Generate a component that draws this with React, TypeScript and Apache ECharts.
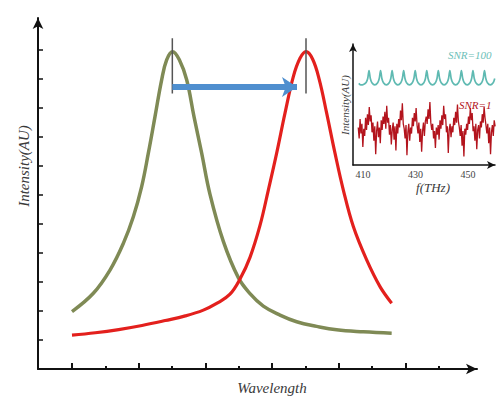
import React, { useEffect, useRef } from "react";
import * as echarts from "echarts";

// Main chart: wavelength (tick units) vs intensity (tick units)
const greenX = [0, 0.64, 1.14, 1.54, 1.84, 2.09, 2.29, 2.49, 2.69, 2.84, 3.02, 3.22, 3.44, 3.66, 3.89, 4.14, 4.54, 4.99, 5.34, 5.74, 6.24, 6.74, 7.34, 7.94, 8.74, 9.59];
const greenY = [1.98, 2.61, 3.41, 4.33, 5.25, 6.29, 7.44, 8.7, 9.97, 10.66, 10.94, 10.66, 9.97, 8.7, 7.44, 6.02, 4.4, 3.15, 2.6, 2.17, 1.86, 1.63, 1.47, 1.35, 1.28, 1.23];
const redX = [0, 0.7, 1.4, 2.1, 2.8, 3.4, 3.94, 4.34, 4.74, 5.04, 5.34, 5.64, 5.89, 6.14, 6.39, 6.64, 6.84, 7.02, 7.22, 7.42, 7.64, 7.89, 8.14, 8.44, 8.84, 9.24, 9.59];
const redY = [1.17, 1.25, 1.36, 1.5, 1.67, 1.83, 2.03, 2.26, 2.58, 3.1, 3.85, 4.95, 6.17, 7.44, 8.82, 10.08, 10.71, 10.94, 10.68, 9.97, 8.82, 7.44, 6.17, 4.91, 3.76, 2.84, 2.27];
const peakMarkers = [3.01, 7.02];
const arrowFrom = [3.01, 9.72];
const arrowTo = [6.75, 9.72];
const xMajorTicks = [0, 2, 4, 6, 8, 10];
const xMinorTicks = [1, 3, 5, 7, 9, 11];
const yTicks = [1, 2, 3, 4, 5, 6, 7, 8, 9, 10, 11];

// Inset: f(THz)
const insetTickLabels = [410, 430, 450];
const tealX = [408.4, 409.2, 410.2, 411.2, 411.8, 412.3, 412.8, 413.4, 414.5, 415.6, 416.2, 416.7, 417.2, 417.8, 418.9, 420.0, 420.6, 421.1, 421.6, 422.2, 423.3, 424.4, 425.0, 425.5, 426.0, 426.6, 427.7, 428.8, 429.4, 429.9, 430.4, 431.0, 432.1, 433.2, 433.8, 434.3, 434.8, 435.4, 436.5, 437.6, 438.2, 438.7, 439.2, 439.8, 440.9, 442.0, 442.6, 443.1, 443.6, 444.2, 445.3, 446.4, 447.0, 447.5, 448.0, 448.6, 449.7, 450.8, 451.4, 451.9, 452.4, 453.0, 454.1, 455.2, 455.8, 456.3, 456.8, 457.4, 458.5, 459.6, 460.2];
const tealY = [6.75, 6.62, 6.66, 6.82, 7.15, 7.8, 7.15, 6.8, 6.62, 6.8, 7.15, 7.8, 7.15, 6.8, 6.62, 6.8, 7.15, 7.8, 7.15, 6.8, 6.62, 6.8, 7.15, 7.8, 7.15, 6.8, 6.62, 6.8, 7.15, 7.8, 7.15, 6.8, 6.62, 6.8, 7.15, 7.8, 7.15, 6.8, 6.62, 6.8, 7.15, 7.8, 7.15, 6.8, 6.62, 6.8, 7.15, 7.8, 7.15, 6.8, 6.62, 6.8, 7.15, 7.8, 7.15, 6.8, 6.62, 6.8, 7.15, 7.8, 7.15, 6.8, 6.62, 6.8, 7.15, 7.8, 7.15, 6.8, 6.62, 6.8, 7.15];
const noiseStart = 408.2;
const noiseStep = 0.35;
const noiseY = [
  3.1, 2.2, 3.8, 2.6, 3.4, 1.5, 3.0, 2.4, 3.9, 2.9, 4.2, 3.3, 4.8, 3.6, 4.1,
  2.7, 3.5, 2.0, 3.2, 0.9, 2.8, 3.6, 2.3, 3.1, 1.8, 3.7, 2.9, 4.0, 3.4, 4.4,
  3.0, 4.9, 3.5, 3.9, 2.5, 3.3, 1.7, 2.9, 3.5, 2.1, 3.2, 1.2, 3.4, 2.6, 3.8,
  3.1, 4.5, 3.7, 5.1, 3.4, 3.0, 2.2, 3.3, 0.8, 2.7, 3.4, 2.0, 3.1, 2.6, 3.9,
  3.2, 4.3, 3.6, 4.7, 3.3, 2.6, 3.5, 1.9, 3.0, 1.1, 2.8, 3.5, 2.4, 3.6, 4.0,
  3.4, 4.6, 3.8, 5.2, 3.5, 2.9, 3.4, 2.2, 2.8, 1.4, 3.1, 2.5, 3.3, 2.1, 3.7,
  3.0, 4.1, 3.3, 4.9, 3.8, 4.2, 2.7, 3.2, 1.0, 2.9, 3.4, 2.3, 3.2, 2.7, 3.9,
  3.3, 4.4, 3.5, 5.0, 3.6, 3.1, 2.4, 3.3, 1.6, 2.8, 0.7, 3.0, 2.5, 3.4, 2.9,
  4.0, 3.4, 4.7, 3.7, 4.3, 2.8, 3.2, 2.0, 3.4, 1.3, 2.9, 3.3, 2.2, 3.6, 3.1,
  4.2, 3.5, 4.8, 3.9, 3.3, 2.6, 3.4, 1.8, 3.1, 0.9, 2.7, 3.3, 2.4, 3.7, 3.2,
];

const SERIF = "'Liberation Serif', 'DejaVu Serif', serif";

export default function App() {
  const ref = useRef<HTMLDivElement>(null);
  useEffect(() => {
    if (!ref.current) return;
    const chart = echarts.init(ref.current, null, { renderer: "svg" });
    const pairs = (xs: number[], ys: number[]) => xs.map((x, i) => [x, ys[i]]);
    const noise = noiseY.map((y, i) => [noiseStart + i * noiseStep, y]);
    const option: any = {
      animation: false,
      backgroundColor: "#ffffff",
      grid: [
        { left: 38, top: 18, width: 439, height: 351 },
        { left: 353, top: 44, width: 142, height: 121 },
      ],
      xAxis: [
        {
          gridIndex: 0, type: "value", min: -1.02, max: 12.15, position: "bottom",
          axisLine: { onZero: false, symbol: ["none", "arrow"], symbolSize: [8, 11], lineStyle: { color: "#111", width: 2 } },
          axisTick: { inside: true, length: 6, customValues: xMajorTicks, lineStyle: { color: "#111", width: 2 } },
          axisLabel: { show: false }, splitLine: { show: false },
        },
        {
          gridIndex: 0, type: "value", min: -1.02, max: 12.15, position: "bottom",
          axisLine: { show: false, onZero: false },
          axisTick: { inside: true, length: 3, customValues: xMinorTicks, lineStyle: { color: "#111", width: 2 } },
          axisLabel: { show: false }, splitLine: { show: false },
        },
        {
          gridIndex: 1, type: "value", min: 406.2, max: 460.3, position: "bottom",
          axisLine: { onZero: false, symbol: ["none", "arrow"], symbolSize: [6, 8], lineStyle: { color: "#111", width: 1.5 } },
          axisTick: { show: false },
          axisLabel: { customValues: insetTickLabels, color: "#444", fontSize: 10, fontFamily: SERIF, margin: 4 },
          splitLine: { show: false },
        },
      ],
      yAxis: [
        {
          gridIndex: 0, type: "value", min: 0, max: 12.1,
          axisLine: { onZero: false, symbol: ["none", "arrow"], symbolSize: [8, 11], lineStyle: { color: "#111", width: 2 } },
          axisTick: { inside: true, length: 5, customValues: yTicks, lineStyle: { color: "#111", width: 1.5 } },
          axisLabel: { show: false }, splitLine: { show: false },
        },
        {
          gridIndex: 1, type: "value", min: 0, max: 10,
          axisLine: { onZero: false, symbol: ["none", "arrow"], symbolSize: [6, 8], lineStyle: { color: "#111", width: 1.5 } },
          axisTick: { show: false }, axisLabel: { show: false }, splitLine: { show: false },
        },
      ],
      series: [
        {
          type: "line", xAxisIndex: 0, yAxisIndex: 0, data: pairs(greenX, greenY),
          smooth: 0.4, showSymbol: false, silent: true,
          lineStyle: { color: "#7f8a55", width: 3.5 },
        },
        {
          type: "line", xAxisIndex: 0, yAxisIndex: 0, data: pairs(redX, redY),
          smooth: 0.4, showSymbol: false, silent: true,
          lineStyle: { color: "#e3201d", width: 3.2 },
        },
        ...peakMarkers.map((px) => ({
          type: "line", xAxisIndex: 0, yAxisIndex: 0,
          data: [[px, 9.5], [px, 11.4]], showSymbol: false, silent: true,
          lineStyle: { color: "#555", width: 1.5 },
        })),
        {
          type: "line", xAxisIndex: 0, yAxisIndex: 0, data: [], silent: true, z: 5,
          markLine: {
            silent: true, symbol: ["none", "arrow"], symbolSize: 15,
            label: { show: false },
            lineStyle: { color: "#4f8fcf", width: 6, type: "solid" },
            data: [[{ coord: arrowFrom }, { coord: arrowTo }]],
          },
        },
        {
          type: "line", xAxisIndex: 2, yAxisIndex: 1, data: pairs(tealX, tealY),
          smooth: 0.3, showSymbol: false, silent: true,
          lineStyle: { color: "#5fbab2", width: 1.7 },
        },
        {
          type: "line", xAxisIndex: 2, yAxisIndex: 1, data: noise,
          showSymbol: false, silent: true,
          lineStyle: { color: "#b3141d", width: 1.3 },
        },
      ],
      graphic: [
        {
          type: "text", x: 24, y: 166, rotation: Math.PI / 2,
          style: { text: "Intensity(AU)", x: 0, y: 0, textAlign: "center", textVerticalAlign: "middle", font: `italic 15px ${SERIF}`, fill: "#3a3a3a" },
        },
        {
          type: "text", x: 272, y: 388,
          style: { text: "Wavelength", x: 0, y: 0, textAlign: "center", textVerticalAlign: "middle", font: `italic 15px ${SERIF}`, fill: "#3a3a3a" },
        },
        {
          type: "text", x: 345, y: 105, rotation: Math.PI / 2,
          style: { text: "Intensity(AU)", x: 0, y: 0, textAlign: "center", textVerticalAlign: "middle", font: `italic 11px ${SERIF}`, fill: "#3a3a3a" },
        },
        {
          type: "text", x: 433, y: 187,
          style: { text: "f(THz)", x: 0, y: 0, textAlign: "center", textVerticalAlign: "middle", font: `italic 13px ${SERIF}`, fill: "#3a3a3a" },
        },
        {
          type: "text", x: 448, y: 55,
          style: { text: "SNR=100", x: 0, y: 0, textAlign: "left", textVerticalAlign: "middle", font: `italic 11px ${SERIF}`, fill: "#6cc0b8" },
        },
        {
          type: "text", x: 459, y: 105,
          style: { text: "SNR=1", x: 0, y: 0, textAlign: "left", textVerticalAlign: "middle", font: `italic 11px ${SERIF}`, fill: "#b3141d" },
        },
      ],
    };
    chart.setOption(option);
    return () => chart.dispose();
  }, []);
  return <div ref={ref} style={{ width: 496, height: 397, position: "absolute", left: 0, top: 0 }} />;
}
